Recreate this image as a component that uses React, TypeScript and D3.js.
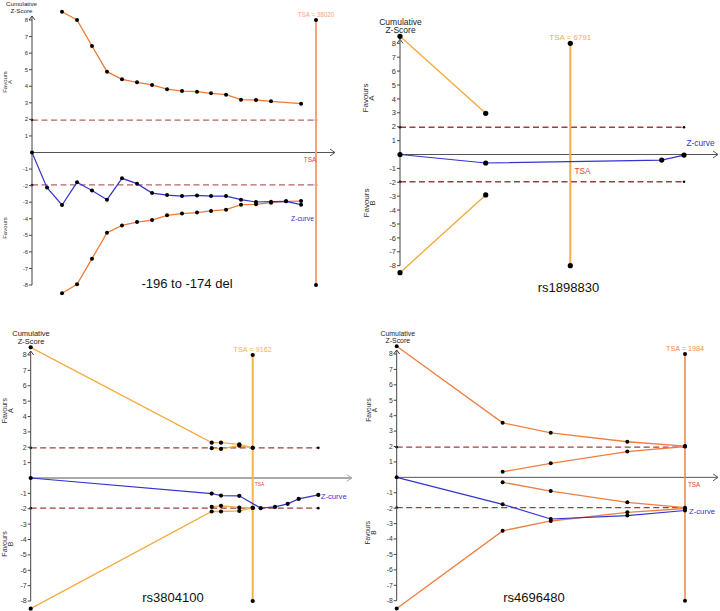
import React from 'react';
import * as d3 from 'd3';

type Pt = [number, number];

const yTicks = [8, 7, 6, 5, 4, 3, 2, 1, -1, -2, -3, -4, -5, -6, -7, -8];
const conventional = 1.96;

// -196 to -174 del
const p1Title = '-196 to -174 del';
const p1Tsa = 38020;
const p1ZCurve: Pt[] = [
  [0, 0], [2010, -2.12], [4020, -3.17], [6030, -1.8], [8030, -2.3], [10040, -2.85],
  [12050, -1.56], [14060, -1.88], [16070, -2.45], [18080, -2.57], [20080, -2.63],
  [22090, -2.59], [23970, -2.63], [25980, -2.63], [27980, -2.85], [29990, -2.99],
  [32000, -2.97], [34010, -2.95], [36020, -3.15],
];
const p1Upper: Pt[] = [
  [4020, 8.5], [6030, 8.0], [8030, 6.43], [10040, 4.88], [12050, 4.42], [14060, 4.24],
  [16070, 4.08], [18080, 3.82], [20080, 3.71], [22090, 3.67], [23970, 3.57],
  [25980, 3.49], [27980, 3.19], [29990, 3.17], [32000, 3.09], [36020, 2.95],
];
const p1Lower: Pt[] = [
  [4020, -8.5], [6030, -7.96], [8030, -6.41], [10040, -4.84], [12050, -4.4], [14060, -4.2],
  [16070, -4.08], [18080, -3.79], [20080, -3.69], [22090, -3.63], [23970, -3.53],
  [25980, -3.45], [27980, -3.15], [29990, -3.13], [32000, -3.03], [34010, -2.95], [36020, -2.93],
];

// rs1898830
const p2Title = 'rs1898830';
const p2Tsa = 6791;
const p2ZCurve: Pt[] = [[0, 0], [3418, -0.61], [10436, -0.4], [11325, -0.04]];
const p2Upper: Pt[] = [[0, 8.5], [3418, 2.96]];
const p2Lower: Pt[] = [[0, -8.5], [3418, -2.91]];

// rs3804100
const p3Title = 'rs3804100';
const p3Tsa = 9162;
const p3ZCurve: Pt[] = [
  [0, 0], [7470, -1.01], [7854, -1.14], [8609, -1.16], [9492, -1.96],
  [10083, -1.88], [10606, -1.68], [11060, -1.36], [11870, -1.1],
];
const p3UpperOuter: Pt[] = [[0, 8.5], [7470, 2.3], [7854, 2.3], [8609, 2.19], [9162, 1.96]];
const p3UpperInner: Pt[] = [[7470, 1.94], [7854, 1.89], [8609, 2.1], [9162, 1.96]];
const p3LowerInner: Pt[] = [[7470, -1.88], [7854, -1.81], [8609, -1.92], [9162, -1.94]];
const p3LowerOuter: Pt[] = [[0, -8.5], [7470, -2.18], [7854, -2.18], [8609, -2.14], [9162, -1.94]];

// rs4696480
const p4Title = 'rs4696480';
const p4Tsa = 1984;
const p4ZCurve: Pt[] = [[0, 0], [729, -1.75], [1060, -2.7], [1587, -2.48], [1984, -2.15]];
const p4UpperOuter: Pt[] = [[0, 8.5], [729, 3.54], [1060, 2.89], [1587, 2.31], [1984, 2.03]];
const p4UpperInner: Pt[] = [[729, 0.36], [1060, 0.91], [1587, 1.67], [1984, 2.0]];
const p4LowerInner: Pt[] = [[729, -0.32], [1060, -0.89], [1587, -1.62], [1984, -1.97]];
const p4LowerOuter: Pt[] = [[0, -8.5], [729, -3.47], [1060, -2.83], [1587, -2.27], [1984, -2.02]];

const panels = [
  {
    title: p1Title, tsa: p1Tsa, z: p1ZCurve, bounds: [p1Upper, p1Lower],
    x0: 32, xTsa: 316, axisEnd: 335, yTop: 20, yBot: 285,
    tickFs: 6, labFs: 6.2, dotR: 2, bound: '#f07a35', tsaCol: '#f5a47a', tsaW: 2,
    dash: '#b36464', axisCol: '#555', axisW: 1,
    cum: { x: 21.5, y1: 6, y2: 12.5 },
    tsaLab: { y: 17, fs: 6.3 }, red: { x: 310, y: 162, fs: 6.5 }, zl: { x: 291, y: 221, fs: 6.8 },
    favA: { x1: 4.5, x2: 10, y: 82 }, favB: { x1: 4.5, x2: null, y: 228 }, favFs: 6,
    titleX: 187, titleY: 288,
  },
  {
    title: p2Title, tsa: p2Tsa, z: p2ZCurve, bounds: [p2Upper, p2Lower],
    x0: 400, xTsa: 570.3, axisEnd: 718, yTop: 43.3, yBot: 265.7,
    tickFs: 7.5, labFs: 8.5, dotR: 2.6, bound: '#f0a83a', tsaCol: '#f2ae48', tsaW: 2,
    dash: '#a03c40', axisCol: '#555', axisW: 1,
    cum: { x: 400.5, y1: 24.5, y2: 33 },
    tsaLab: { y: 39.5, fs: 8 }, red: { x: 582.5, y: 173.5, fs: 8.3 }, zl: { x: 686.5, y: 146, fs: 8.3 },
    favA: { x1: 365, x2: 371.5, y: 98 }, favB: { x1: 366, x2: 372.5, y: 203 }, favFs: 8,
    titleX: 568.5, titleY: 292,
  },
  {
    title: p3Title, tsa: p3Tsa, z: p3ZCurve, bounds: [p3UpperOuter, p3UpperInner, p3LowerInner, p3LowerOuter],
    x0: 30.7, xTsa: 252.7, axisEnd: 351.7, yTop: 355, yBot: 601,
    tickFs: 7, labFs: 7.5, dotR: 2.1, bound: '#f4ad40', tsaCol: '#f5b44c', tsaW: 2,
    dash: '#a03c40', axisCol: '#aaa', axisW: 2,
    cum: { x: 31, y1: 336, y2: 343.5 },
    tsaLab: { y: 351.5, fs: 7.3 }, red: { x: 259.5, y: 485.5, fs: 4.8 }, zl: { x: 320.7, y: 498.5, fs: 7.7 },
    favA: { x1: 4.5, x2: 10.5, y: 410.7 }, favB: { x1: 4.5, x2: 10.5, y: 544 }, favFs: 7,
    titleX: 173, titleY: 602,
  },
  {
    title: p4Title, tsa: p4Tsa, z: p4ZCurve, bounds: [p4UpperOuter, p4UpperInner, p4LowerInner, p4LowerOuter],
    x0: 396.7, xTsa: 685, axisEnd: 718, yTop: 354, yBot: 600.7,
    tickFs: 6.8, labFs: 6.9, dotR: 2, bound: '#f07e40', tsaCol: '#f08a4c', tsaW: 1.6,
    dash: '#a03c40', axisCol: '#555', axisW: 1,
    cum: { x: 397.8, y1: 336, y2: 342.5 },
    tsaLab: { y: 351, fs: 7.2 }, red: { x: 694, y: 487, fs: 6.3 }, zl: { x: 689, y: 513.5, fs: 7.7 },
    favA: { x1: 369, x2: 374.5, y: 410 }, favB: { x1: 368, x2: 374, y: 532.7 }, favFs: 6.5,
    titleX: 534, titleY: 602,
  },
];

type PanelCfg = (typeof panels)[number];

function Rot({ x, y, fs, children }: { x: number; y: number; fs: number; children: React.ReactNode }) {
  return (
    <text transform={`translate(${x},${y}) rotate(-90)`} textAnchor="middle" dy="0.35em" fontSize={fs} fill="#333">
      {children}
    </text>
  );
}

function Panel({ p }: { p: PanelCfg }) {
  const x = d3.scaleLinear().domain([0, p.tsa]).range([p.x0, p.xTsa]);
  const y = d3.scaleLinear().domain([-8, 8]).range([p.yBot, p.yTop]);
  const line = d3.line<Pt>().x(d => x(d[0])).y(d => y(d[1]));
  const y0 = y(0);
  const xe = p.axisEnd;
  const yt = y(8) - 4;
  const lastN = d3.max(p.z, d => d[0]) as number;
  const dashEnd = Math.max(lastN, p.tsa);

  return (
    <g>
      {/* conventional boundaries */}
      {[conventional, -conventional].map(v => (
        <g key={v}>
          <line x1={x(0)} x2={x(dashEnd)} y1={y(v)} y2={y(v)} stroke={p.dash} strokeWidth={1.3} strokeDasharray="6,3.5" />
          <circle cx={x(0)} cy={y(v)} r={1.3} fill="#000" />
          <circle cx={x(dashEnd)} cy={y(v)} r={1.3} fill="#000" />
        </g>
      ))}

      {/* axes */}
      <line x1={p.x0} x2={xe} y1={y0} y2={y0} stroke={p.axisCol} strokeWidth={p.axisW} />
      <path d={`M${xe - 5},${y0 - 3.5}L${xe},${y0}L${xe - 5},${y0 + 3.5}`} fill="none" stroke={p.axisCol} strokeWidth={1} />
      <line x1={p.x0} x2={p.x0} y1={p.yBot} y2={yt} stroke="#444" strokeWidth={1} />
      <path d={`M${p.x0 - 3},${yt + 4}L${p.x0},${yt}L${p.x0 + 3},${yt + 4}`} fill="none" stroke="#444" strokeWidth={1} />
      {yTicks.map(t => (
        <g key={t}>
          <line x1={p.x0 - 3} x2={p.x0} y1={y(t)} y2={y(t)} stroke="#444" strokeWidth={1} />
          <text x={p.x0 - 4} y={y(t)} dy="0.35em" textAnchor="end" fontSize={p.tickFs} fill="#333">{t}</text>
        </g>
      ))}

      {/* TSA line */}
      <line x1={x(p.tsa)} x2={x(p.tsa)} y1={y(8)} y2={y(-8)} stroke={p.tsaCol} strokeWidth={p.tsaW} />
      <circle cx={x(p.tsa)} cy={y(8)} r={p.dotR} fill="#000" />
      <circle cx={x(p.tsa)} cy={y(-8)} r={p.dotR} fill="#000" />
      <text x={x(p.tsa)} y={p.tsaLab.y} textAnchor="middle" fontSize={p.tsaLab.fs} fill={p.tsaCol}>
        TSA = {p.tsa}
      </text>
      <text x={p.red.x} y={p.red.y} textAnchor="middle" fontSize={p.red.fs} fill="#e8403a">TSA</text>

      {/* monitoring boundaries */}
      {p.bounds.map((b, i) => (
        <g key={i}>
          <path d={line(b) || ''} fill="none" stroke={p.bound} strokeWidth={1.3} />
          {b.map((d, j) => (
            <circle key={j} cx={x(d[0])} cy={y(d[1])} r={p.dotR} fill="#000" />
          ))}
        </g>
      ))}

      {/* Z-curve */}
      <path d={line(p.z) || ''} fill="none" stroke="#3434cf" strokeWidth={1.2} />
      {p.z.map((d, j) => (
        <circle key={j} cx={x(d[0])} cy={y(d[1])} r={p.dotR} fill="#000" />
      ))}
      <text x={p.zl.x} y={p.zl.y} fontSize={p.zl.fs} fill="#3434cf">Z-curve</text>

      {/* labels */}
      <text x={p.cum.x} y={p.cum.y1} textAnchor="middle" fontSize={p.labFs} fill="#222">Cumulative</text>
      <text x={p.cum.x} y={p.cum.y2} textAnchor="middle" fontSize={p.labFs} fill="#222">Z-Score</text>
      <Rot x={p.favA.x1} y={p.favA.y} fs={p.favFs}>Favours</Rot>
      <Rot x={p.favA.x2} y={p.favA.y} fs={p.favFs}>A</Rot>
      <Rot x={p.favB.x1} y={p.favB.y} fs={p.favFs}>Favours</Rot>
      {p.favB.x2 !== null && <Rot x={p.favB.x2 as number} y={p.favB.y} fs={p.favFs}>B</Rot>}
      <text x={p.titleX} y={p.titleY} textAnchor="middle" fontSize={13} fill="#111">{p.title}</text>
    </g>
  );
}

export default function App() {
  return (
    <svg
      width={720}
      height={611}
      style={{ position: 'absolute', left: 0, top: 0, background: '#fff', fontFamily: '"Liberation Sans", Arial, sans-serif' }}
    >
      <rect width={720} height={611} fill="#fff" />
      {panels.map((p, i) => (
        <Panel key={i} p={p} />
      ))}
    </svg>
  );
}
